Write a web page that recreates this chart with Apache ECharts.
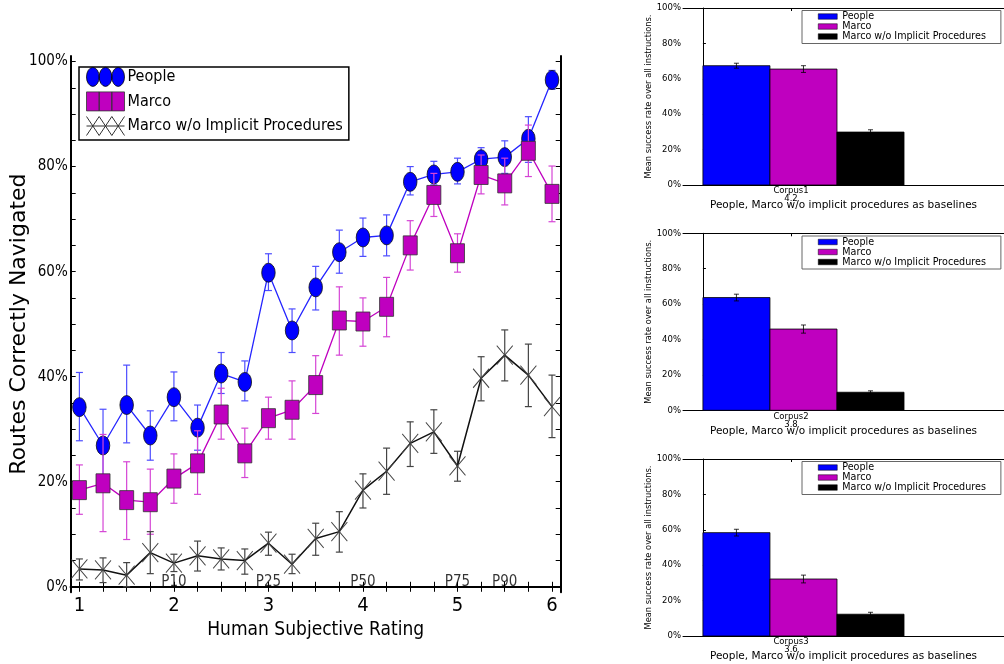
<!DOCTYPE html>
<html>
<head>
<meta charset="utf-8">
<script src="https://cdn.jsdelivr.net/npm/echarts@6/dist/echarts.min.js"></script>
<style>
html,body{margin:0;padding:0;background:#fff;}
#chart{width:1004px;height:664px;}
</style>
</head>
<body>
<div id="chart"></div>
<script>
// ---------- Main panel data ----------
const ratingX = [1, 1.25, 1.5, 1.75, 2, 2.25, 2.5, 2.75, 3, 3.25, 3.5, 3.75, 4, 4.25, 4.5, 4.75, 5, 5.25, 5.5, 5.75, 6];
const peopleMean  = [34.2, 26.9, 34.6, 28.8, 36.1, 30.3, 40.6, 39.0, 59.8, 48.8, 57.0, 63.7, 66.5, 66.9, 77.1, 78.5, 79.0, 81.4, 81.8, 85.3, 96.5];
const peopleUpper = [40.8, 33.8, 42.2, 33.5, 40.9, 34.6, 44.6, 43.0, 63.4, 52.9, 61.0, 67.9, 70.2, 70.8, 80.0, 81.0, 81.6, 83.6, 84.9, 89.5, 98.3];
const peopleLower = [27.8, 20.0, 27.4, 24.1, 31.6, 26.0, 36.8, 35.4, 56.4, 44.6, 52.7, 59.7, 62.9, 63.0, 74.6, 76.5, 76.7, 78.9, 78.7, 80.8, 94.7];
const marcoMean   = [18.4, 19.7, 16.5, 16.1, 20.6, 23.5, 32.8, 25.4, 32.1, 33.7, 38.4, 50.7, 50.5, 53.3, 65.0, 74.6, 63.5, 78.4, 76.8, 83.0, 74.8];
const marcoUpper  = [23.2, 29.0, 23.8, 22.4, 25.3, 29.7, 37.8, 30.2, 36.1, 39.2, 44.0, 57.1, 55.0, 58.9, 69.7, 78.7, 67.2, 82.2, 81.6, 87.9, 80.1];
const marcoLower  = [13.8, 10.5, 9.0, 10.0, 15.9, 17.6, 28.1, 20.8, 28.1, 28.1, 33.0, 44.1, 45.8, 47.6, 60.3, 70.5, 59.9, 74.8, 72.7, 78.1, 69.5];
const noImpMean   = [3.4, 3.2, 2.2, 6.5, 4.5, 5.9, 5.3, 5.0, 8.3, 4.3, 9.2, 10.5, 18.4, 22.0, 27.3, 29.5, 23.0, 39.7, 44.1, 40.3, 34.3];
const noImpUpper  = [5.3, 5.5, 4.6, 10.5, 6.2, 8.7, 7.4, 7.2, 10.4, 6.2, 12.1, 14.3, 21.5, 26.4, 31.4, 33.7, 25.8, 43.8, 48.9, 46.2, 40.3];
const noImpLower  = [1.3, 0.8, 0.0, 2.5, 2.9, 3.0, 3.2, 2.4, 6.0, 2.5, 6.0, 6.6, 15.0, 17.6, 22.9, 25.4, 20.1, 35.4, 39.2, 34.3, 28.4];

const percentileX = [2, 3, 4, 5, 5.5];
const percentileLabels = ['P10', 'P25', 'P50', 'P75', 'P90'];

const xTickLabels = [1, 2, 3, 4, 5, 6];
const xTickMarks = [1, 1.25, 1.5, 1.75, 2, 2.25, 2.5, 2.75, 3, 3.25, 3.5, 3.75, 4, 4.25, 4.5, 4.75, 5, 5.25, 5.5, 5.75, 6];
const yTickLabels = [0, 20, 40, 60, 80, 100];
const yTickMarks = [0, 5, 10, 15, 20, 25, 30, 35, 40, 45, 50, 55, 60, 65, 70, 75, 80, 85, 90, 95, 100];

const seriesNames = ['People', 'Marco', 'Marco w/o Implicit Procedures'];

// ---------- Corpus bar panels data ----------
const corpusNames  = ['Corpus1', 'Corpus2', 'Corpus3'];
const corpusScores = ['4.2', '3.8', '3.6'];
const corpusPeople     = [67.4, 63.7, 58.4];
const corpusPeopleErr  = [1.4, 1.9, 1.9];
const corpusMarco      = [65.5, 45.9, 32.2];
const corpusMarcoErr   = [1.9, 2.3, 2.2];
const corpusNoImp      = [29.9, 10.2, 12.3];
const corpusNoImpErr   = [1.3, 0.8, 1.1];
const barSlotLeft = [0, 0.35, 0.7];   // left edges of the three bars (bar units)
const barSlotWidth = 0.35;
const corpusTick = 0.46;
const barYTicks = [0, 20, 40, 60, 80, 100];

// ---------- Styles ----------
const COND = 'DejaVu Sans Condensed';
const SANS = 'DejaVu Sans';
const BLUE = '#0000ff', MAG = '#bf00bf', BLK = '#000000';

const chart = echarts.init(document.getElementById('chart'), null, {renderer: 'canvas'});

const zip = (xs, ys) => xs.map((x, i) => [x, ys[i]]);

function errSeries(name, lower, upper, color, z) {
  return {
    type: 'custom', name: name, xAxisIndex: 0, yAxisIndex: 0, z: z, silent: true,
    data: ratingX.map((x, i) => [x, lower[i], upper[i]]),
    encode: {x: 0, y: [1, 2]},
    renderItem: function (params, api) {
      const x = api.value(0);
      const lo = api.coord([x, api.value(1)]);
      const hi = api.coord([x, api.value(2)]);
      const cw = 3.5;
      const st = {stroke: color, lineWidth: 1.2};
      return {type: 'group', children: [
        {type: 'line', shape: {x1: lo[0], y1: lo[1], x2: hi[0], y2: hi[1]}, style: st},
        {type: 'line', shape: {x1: lo[0] - cw, y1: lo[1], x2: lo[0] + cw, y2: lo[1]}, style: st},
        {type: 'line', shape: {x1: hi[0] - cw, y1: hi[1], x2: hi[0] + cw, y2: hi[1]}, style: st}
      ]};
    }
  };
}

function barSeries(name, gi, slot, values, errs, color) {
  return {
    type: 'custom', name: name, xAxisIndex: 2 + gi * 2, yAxisIndex: 2 + gi, z: 3,
    itemStyle: {color: color},
    data: [[barSlotLeft[slot], barSlotWidth, values[gi], errs[gi]]],
    encode: {x: 0, y: 2},
    renderItem: function (params, api) {
      const left = api.value(0), w = api.value(1), v = api.value(2), e = api.value(3);
      const p0 = api.coord([left, 0]);
      const p1 = api.coord([left + w, v]);
      const cx = api.coord([left + w / 2, v]);
      const lo = api.coord([left + w / 2, v - e]);
      const hi = api.coord([left + w / 2, v + e]);
      const cw = 2.5;
      const es = {stroke: '#000', lineWidth: 0.8};
      return {type: 'group', children: [
        {type: 'rect', shape: {x: p0[0], y: p1[1], width: p1[0] - p0[0], height: p0[1] - p1[1]},
         style: {fill: color, stroke: '#000', lineWidth: 0.8}},
        {type: 'line', shape: {x1: cx[0], y1: lo[1], x2: cx[0], y2: hi[1]}, style: es},
        {type: 'line', shape: {x1: cx[0] - cw, y1: lo[1], x2: cx[0] + cw, y2: lo[1]}, style: es},
        {type: 'line', shape: {x1: cx[0] - cw, y1: hi[1], x2: cx[0] + cw, y2: hi[1]}, style: es}
      ]};
    }
  };
}

// legend icons (three markers, like matplotlib numpoints=3)
const ICON_CIRCLES = 'path://M0,9.5A6.333,9.5 0 1 1 12.667,9.5A6.333,9.5 0 1 1 0,9.5Z' +
  'M12.667,9.5A6.333,9.5 0 1 1 25.333,9.5A6.333,9.5 0 1 1 12.667,9.5Z' +
  'M25.333,9.5A6.333,9.5 0 1 1 38,9.5A6.333,9.5 0 1 1 25.333,9.5Z';
const ICON_SQUARES = 'path://M0,0H12.667V19H0ZM12.667,0H25.333V19H12.667ZM25.333,0H38V19H25.333Z';
const ICON_XS = 'path://M0,0L12.667,19M12.667,0L0,19M12.667,0L25.333,19M25.333,0L12.667,19M25.333,0L38,19M38,0L25.333,19M0,9.5L38,9.5';
const X_MARK = 'path://M0,0L16,19M16,0L0,19';

// ---------- Grids / axes ----------
const barGridTops = [8, 233.3, 459];
const grids = [{left: 70.7, top: 56, width: 490, height: 536.3}];
barGridTops.forEach(t => grids.push({left: 683, top: t, width: 327, height: 177}));

const xAxes = [
  {gridIndex: 0, type: 'value', min: 0.908, max: 6.092, position: 'bottom',
   name: 'Human Subjective Rating', nameLocation: 'middle', nameGap: 25,
   nameTextStyle: {fontFamily: COND, fontSize: 19, color: '#000'},
   axisLine: {show: true, lineStyle: {color: '#000', width: 2}},
   axisTick: {show: true, inside: true, length: 5, customValues: xTickMarks, lineStyle: {color: '#000', width: 1}},
   axisLabel: {show: true, customValues: xTickLabels, margin: 3, fontFamily: COND, fontSize: 20, color: '#000'},
   splitLine: {show: false}},
  {gridIndex: 0, type: 'value', min: 0.908, max: 6.092, position: 'top',
   axisLine: {show: true, lineStyle: {color: '#000', width: 2}},
   axisTick: {show: true, inside: true, length: 5, customValues: xTickMarks, lineStyle: {color: '#000', width: 1}},
   axisLabel: {show: false}, splitLine: {show: false}}
];
const yAxes = [
  {gridIndex: 0, type: 'value', min: -1.05, max: 101.05, position: 'left',
   name: 'Routes Correctly Navigated', nameLocation: 'middle', nameGap: 40, nameRotate: 90,
   nameMoveOverlap: false,
   nameTextStyle: {fontFamily: SANS, fontSize: 22, color: '#000'},
   axisLine: {show: true, lineStyle: {color: '#000', width: 2}},
   axisTick: {show: true, inside: true, length: 5, customValues: yTickMarks, lineStyle: {color: '#000', width: 1}},
   axisLabel: {show: true, customValues: yTickLabels, margin: 3, fontFamily: COND, fontSize: 15, color: '#000',
               formatter: v => v + '%'},
   splitLine: {show: false}},
  {gridIndex: 0, type: 'value', min: -1.05, max: 101.05, position: 'right',
   axisLine: {show: true, lineStyle: {color: '#000', width: 2}},
   axisTick: {show: true, inside: true, length: 5, customValues: yTickMarks, lineStyle: {color: '#000', width: 1}},
   axisLabel: {show: false}, splitLine: {show: false}}
];
corpusNames.forEach((cn, gi) => {
  xAxes.push({gridIndex: gi + 1, type: 'value', min: -0.104, max: 1.572, position: 'bottom',
    name: 'People, Marco w/o implicit procedures as baselines', nameLocation: 'middle', nameGap: 15,
    nameMoveOverlap: false,
    nameTextStyle: {fontFamily: SANS, fontSize: 10.5, color: '#000'},
    axisLine: {show: true, lineStyle: {color: '#000', width: 1}},
    axisTick: {show: true, inside: true, length: 3, customValues: [corpusTick], lineStyle: {color: '#000'}},
    axisLabel: {show: true, customValues: [corpusTick], margin: 2, fontFamily: SANS, fontSize: 8.5, lineHeight: 8,
                color: '#000', formatter: () => corpusNames[gi] + '\n' + corpusScores[gi]},
    splitLine: {show: false}});
  xAxes.push({gridIndex: gi + 1, type: 'value', min: -0.104, max: 1.572, position: 'top',
    axisLine: {show: true, lineStyle: {color: '#000', width: 1}},
    axisTick: {show: true, inside: true, length: 3, customValues: [corpusTick], lineStyle: {color: '#000'}},
    axisLabel: {show: false}, splitLine: {show: false}});
  yAxes.push({gridIndex: gi + 1, type: 'value', min: 0, max: 100, position: 'left',
    name: 'Mean success rate over all instructions.', nameLocation: 'middle', nameGap: 29, nameRotate: 90,
    nameTextStyle: {fontFamily: COND, fontSize: 9.2, color: '#000'},
    axisLine: {show: true, lineStyle: {color: '#000', width: 1}},
    axisTick: {show: true, inside: true, length: 3, customValues: barYTicks, lineStyle: {color: '#000'}},
    axisLabel: {show: true, customValues: barYTicks, margin: 2, fontFamily: SANS, fontSize: 8.5, color: '#000',
                formatter: v => v + '%'},
    splitLine: {show: false}});
});

// ---------- Legends ----------
const legends = [{
  orient: 'vertical', left: 79, top: 67,
  itemWidth: 38, itemHeight: 19, itemGap: 4.7,
  padding: [0, 6, 4, 7],
  backgroundColor: '#fff', borderColor: '#000', borderWidth: 1.5, borderRadius: 0,
  textStyle: {fontFamily: COND, fontSize: 16, color: '#000', lineHeight: 19, padding: [0, 0, 0, -2]},
  selectedMode: false,
  data: [
    {name: seriesNames[0], icon: ICON_CIRCLES, itemStyle: {color: BLUE, borderColor: '#000', borderWidth: 0.8}},
    {name: seriesNames[1], icon: ICON_SQUARES, itemStyle: {color: MAG, borderColor: '#333', borderWidth: 0.8}},
    {name: seriesNames[2], icon: ICON_XS, itemStyle: {color: 'rgba(0,0,0,0)', borderColor: '#333', borderWidth: 1}}
  ]
}];
[10.5, 236, 461.5].forEach(t => {
  legends.push({
    orient: 'vertical', left: 802, top: t,
    itemWidth: 19, itemHeight: 5.5, itemGap: 0,
    padding: [1, 15, 2, 16],
    backgroundColor: '#fff', borderColor: '#666', borderWidth: 1, borderRadius: 0,
    textStyle: {fontFamily: SANS, fontSize: 9.6, color: '#000', lineHeight: 9},
    selectedMode: false,
    data: [
      {name: seriesNames[0], icon: 'rect', itemStyle: {color: BLUE, borderColor: '#000', borderWidth: 0.5}},
      {name: seriesNames[1], icon: 'rect', itemStyle: {color: MAG, borderColor: '#000', borderWidth: 0.5}},
      {name: seriesNames[2], icon: 'rect', itemStyle: {color: BLK, borderColor: '#000', borderWidth: 0.5}}
    ]
  });
});

// ---------- Series ----------
const series = [
  errSeries('People error', peopleLower, peopleUpper, '#4d4dff', 2),
  {type: 'line', name: seriesNames[0], xAxisIndex: 0, yAxisIndex: 0, z: 3,
   data: zip(ratingX, peopleMean),
   lineStyle: {color: '#2525ff', width: 1.3},
   symbol: 'circle', symbolSize: [13.5, 19],
   itemStyle: {color: BLUE, borderColor: '#111', borderWidth: 0.8}},
  errSeries('Marco error', marcoLower, marcoUpper, '#d545d5', 4),
  {type: 'line', name: seriesNames[1], xAxisIndex: 0, yAxisIndex: 0, z: 5,
   data: zip(ratingX, marcoMean),
   lineStyle: {color: MAG, width: 1.3},
   symbol: 'rect', symbolSize: [14, 19],
   itemStyle: {color: MAG, borderColor: '#333', borderWidth: 0.8}},
  errSeries('No-implicit error', noImpLower, noImpUpper, '#444444', 6),
  {type: 'line', name: seriesNames[2], xAxisIndex: 0, yAxisIndex: 0, z: 7,
   data: zip(ratingX, noImpMean),
   lineStyle: {color: '#111', width: 1.5},
   symbol: X_MARK, symbolSize: [16, 19],
   itemStyle: {color: '#000', borderColor: '#444', borderWidth: 1}},
  {type: 'scatter', name: 'percentiles', xAxisIndex: 0, yAxisIndex: 0, z: 8, silent: true,
   symbolSize: 0,
   data: percentileX.map((x, i) => ({name: percentileLabels[i], value: [x, 0]})),
   label: {show: true, position: 'top', distance: 0, offset: [0, 3], formatter: p => p.name,
           fontFamily: COND, fontSize: 15, color: '#000'}}
];
corpusNames.forEach((cn, gi) => {
  series.push(barSeries(seriesNames[0], gi, 0, corpusPeople, corpusPeopleErr, BLUE));
  series.push(barSeries(seriesNames[1], gi, 1, corpusMarco, corpusMarcoErr, MAG));
  series.push(barSeries(seriesNames[2], gi, 2, corpusNoImp, corpusNoImpErr, BLK));
});

chart.setOption({
  animation: false,
  backgroundColor: '#fff',
  grid: grids,
  xAxis: xAxes,
  yAxis: yAxes,
  legend: legends,
  series: series
});
</script>
</body>
</html>
